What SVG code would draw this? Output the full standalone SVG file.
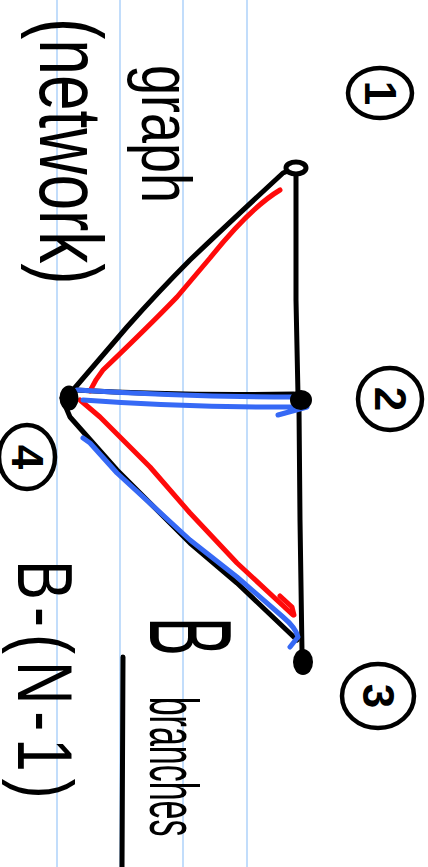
<svg xmlns="http://www.w3.org/2000/svg" width="428" height="867" viewBox="0 0 428 867">
<style>
.rule{stroke:#b3d5fa;stroke-width:1.6}
.ink{fill:none;stroke:#000;stroke-width:5;stroke-linecap:round;stroke-linejoin:round}
.red{fill:none;stroke:#ff0a0a;stroke-width:5;stroke-linecap:round;stroke-linejoin:round}
.blue{fill:none;stroke:#3669f5;stroke-width:5;stroke-linecap:round;stroke-linejoin:round}
.ring{fill:none;stroke:#000;stroke-width:4.5}
.t{font-family:"Liberation Sans","DejaVu Sans",sans-serif;fill:#000}
.num{font-family:"Liberation Sans","DejaVu Sans",sans-serif;font-size:44px;font-weight:bold;fill:#000}
</style>
<rect width="428" height="867" fill="#fff"/>
<g id="ruling">
<line class="rule" x1="57" y1="0" x2="57" y2="867"/>
<line class="rule" x1="120" y1="0" x2="120" y2="867"/>
<line class="rule" x1="183" y1="0" x2="183" y2="867"/>
<line class="rule" x1="247" y1="0" x2="247" y2="867"/>
</g>
<g id="connectors">
<path class="ink" d="M73 390 L 127 327 Q 160 290 190 260 Q 230 222 283 173 L 295 168"/>
<path class="ink" d="M296 172 L 296 300 L 298 395"/>
<path class="ink" d="M299 408 L 300 520 L 302 652"/>
<path class="ink" d="M75 390 Q 180 396 294 394"/>
<path class="ink" d="M62 398 L 70 417 L 117 470 L 190 543 L 237 583 L 297 640"/>
<path class="red" d="M280 190 Q 250 208 210 258 L 177 297 Q 150 325 103 370 Q 95 380 90 391"/>
<path class="red" d="M80 400 L 100 417 L 150 467 L 190 513 L 237 563 L 293 615 M280 596 L 292 607 L 294 615"/>
<path class="blue" d="M77 390 Q 190 397 295 397 M83 400 Q 190 408 307 407 M278 415 L 307 407"/>
<path class="blue" stroke-width="9" d="M83 438 L 90 443 L 117 473 L 190 540 L 237 577 L 283 617 Q 296 628 298 637 L 290 647"/>
</g>
<g id="n1">
<ellipse cx="296" cy="168" rx="10" ry="6" fill="#fff" stroke="#000" stroke-width="5"/>
<ellipse class="ring" cx="380" cy="93" rx="32" ry="25"/>
<text class="num" transform="translate(380,93) rotate(90)" text-anchor="middle" dominant-baseline="central">1</text>
</g>
<g id="n2">
<ellipse cx="301" cy="400" rx="9" ry="8" fill="#000" stroke="#000" stroke-width="4"/>
<ellipse class="ring" cx="390" cy="399" rx="32" ry="31"/>
<text class="num" transform="translate(390,399) rotate(90)" text-anchor="middle" dominant-baseline="central">2</text>
</g>
<g id="n3">
<ellipse cx="303" cy="662" rx="10" ry="13" fill="#000"/>
<ellipse class="ring" cx="378" cy="696" rx="36" ry="32"/>
<text class="num" transform="translate(378,696) rotate(90)" text-anchor="middle" dominant-baseline="central">3</text>
</g>
<g id="n4">
<ellipse cx="69" cy="398" rx="8" ry="11" fill="#000" stroke="#000" stroke-width="3"/>
<ellipse class="ring" cx="27" cy="457" rx="28" ry="32"/>
<text class="num" transform="translate(27,457) rotate(90)" text-anchor="middle" dominant-baseline="central">4</text>
</g>
<g id="labels">
<text class="t" font-size="54" transform="translate(142,65) rotate(90) scale(1,1.3)">graph</text>
<text class="t" font-size="64" transform="translate(40,18) rotate(90) scale(1,1.4)">(network)</text>
<text class="t" font-size="60" letter-spacing="7" transform="translate(18,560) rotate(90) scale(1,1.3)">B-(N-1)</text>
<text class="t" transform="translate(150,617) rotate(90) scale(1,2)"><tspan font-size="58">B</tspan><tspan font-size="34" dx="41">branches</tspan></text>
<line class="ink" x1="123" y1="657" x2="122" y2="867"/>
</g>
</svg>
